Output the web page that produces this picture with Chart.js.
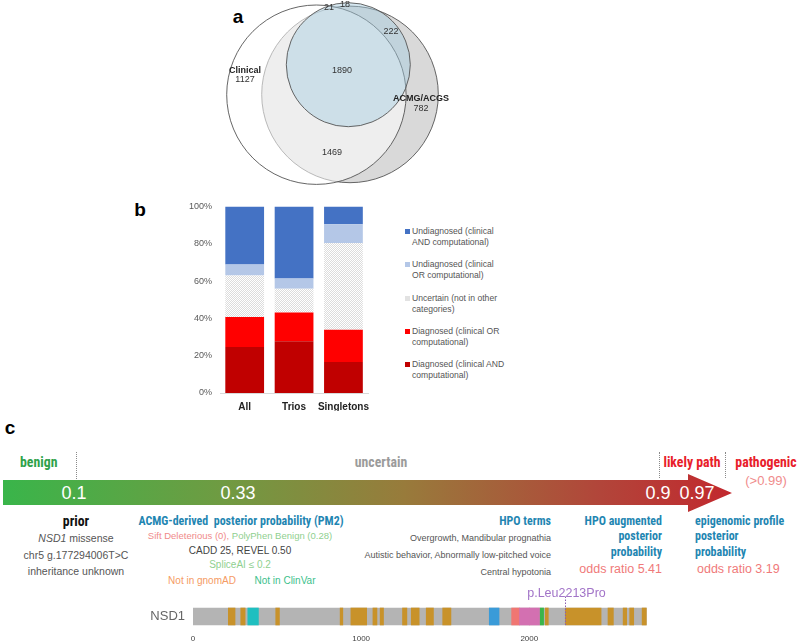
<!DOCTYPE html>
<html>
<head>
<meta charset="utf-8">
<script src="https://cdn.jsdelivr.net/npm/chart.js@4.4.1/dist/chart.umd.min.js"></script>
<style>
  body { margin: 0; background: #fff; }
  #page { position: relative; width: 800px; height: 644px; overflow: hidden; font-family: 'Liberation Sans', Arial, sans-serif; }
  canvas { position: absolute; }
  .lbl { position: absolute; white-space: nowrap; line-height: 1; }
  .cond { font-family: 'Liberation Sans Narrow', 'Arial Narrow', 'Roboto Condensed', sans-serif; font-weight: bold; }
  .letter { position: absolute; font-weight: bold; font-size: 19px; transform: translate(-50%, -50%); }
  .dots { position: absolute; width: 0; border-left: 1px dotted #8a8a8a; }
  #arrow {
    position: absolute; left: 3px; top: 474px; width: 729px; height: 38px;
    background: linear-gradient(to right, #39b54a 0%, #6f9b42 30%, #987b3b 55%, #b2453a 82%, #c2282e 100%);
    clip-path: polygon(0 6px, 685px 6px, 685px 0, 729px 19px, 685px 38px, 685px 31px, 0 31px);
  }
  #legend { position: absolute; left: 404px; top: 226px; font-size: 8.6px; color: #555; }
  #legend .item { position: absolute; left: 0; white-space: pre-line; line-height: 11px; padding-left: 8px; width: 140px; }
  #legend .sw { position: absolute; left: 1px; top: 3px; width: 5px; height: 5px; }
</style>
</head>
<body>
<div id="page">
  <div class="letter" style="left:238px;top:17px">a</div>
  <div class="letter" style="left:140px;top:210px">b</div>
  <div class="letter" style="left:10px;top:428px">c</div>

  <canvas id="venn" width="280" height="190" style="left:180px;top:0px"></canvas>
  <canvas id="bars" width="207" height="218" style="left:170px;top:193px"></canvas>
  <div id="legend"></div>

  <div id="arrow"></div>
  <div class="dots" style="left:76px;top:452px;height:27px"></div>
  <div class="dots" style="left:659px;top:452px;height:26px"></div>
  <div class="dots" style="left:725px;top:452px;height:26px"></div>
  <div id="texts"></div>

  <canvas id="protein" width="507" height="59" style="left:140px;top:585px"></canvas>
</div>

<script>
// ---- panel a: overlap counts ----
const vennSets = ['Clinical', 'ACMG/ACGS', 'Computational'];
const vennRegions = ['Clinical only', 'Clinical & ACMG', 'All three', 'ACMG & Computational', 'Clinical & Computational', 'Computational only', 'ACMG only'];
const vennCounts = [1127, 1469, 1890, 222, 21, 18, 782];

// ---- panel b: share of cases per group (%) ----
const barCategories = ['All', 'Trios', 'Singletons'];
const seriesNames = [
  'Diagnosed (clinical AND\ncomputational)',
  'Diagnosed (clinical OR\ncomputational)',
  'Uncertain (not in other\ncategories)',
  'Undiagnosed (clinical\nOR computational)',
  'Undiagnosed (clinical\nAND computational)'
];
const diagnosedAnd = [24.6, 27.7, 16.6];
const diagnosedOr = [16.1, 15.5, 17.3];
const uncertain = [22.3, 12.7, 46.5];
const undiagnosedOr = [5.9, 5.4, 10.0];
const undiagnosedAnd = [31.1, 38.7, 9.6];
const percentTicks = [0, 20, 40, 60, 80, 100];

// ---- panel c: NSD1 protein ----
const proteinName = ['NSD1'];
const proteinLength = 2696;
const proteinTicks = [0, 1000, 2000];
const domainStart = [210, 284, 326, 492, 875, 939, 1070, 1113, 1246, 1298, 1387, 1485, 1762, 1895, 1942, 2001, 2065, 2095, 2214, 2468, 2558, 2597, 2671];
const domainEnd   = [250, 310, 389, 514, 891, 1033, 1094, 1133, 1272, 1345, 1430, 1534, 1820, 1942, 2001, 2061, 2085, 2113, 2427, 2500, 2579, 2621, 2696];
const domainType  = ['region', 'region', 'PWWP1', 'region', 'region', 'region', 'region', 'region', 'region', 'region', 'region', 'region',
                     'PWWP2', 'AWS', 'SET', 'SET', 'postSET', 'region', 'region', 'region', 'region', 'region', 'region'];
const variantPos = 2213;
const variantName = 'p.Leu2213Pro';
const probabilityLabels = ['0.1', '0.33', '0.9', '0.97'];

// layout (not data)
const vennGeom = [
  { x: 136.4, y: 94.7, r: 89.7 },
  { x: 170, y: 94.4, r: 88.3 },
  { x: 168.3, y: 64.7, r: 62 }
];
const vennFills = ['rgba(255,255,255,0.55)', '#d9d9d9', 'rgba(165,205,224,0.45)'];
const vennCountPos = [[65, 80], [152, 153], [162, 71], [211, 32], [149, 8], [165, 5], [241, 109]];
const vennTitlePos = [[65, 71], [241, 99], null];

const domainColors = { region: '#c8922a', PWWP1: '#1fbfc0', PWWP2: '#3a9bd8', AWS: '#f07672', SET: '#d370b1', postSET: '#3bb54a' };

new Chart(document.getElementById('venn'), {
  type: 'bubble',
  data: {
    datasets: vennSets.map((name, i) => ({
      label: name,
      data: [{ x: vennGeom[i].x, y: vennGeom[i].y, r: vennGeom[i].r }],
      backgroundColor: vennFills[i],
      borderColor: '#555',
      borderWidth: 0.9,
      order: [2, 3, 1][i],
      clip: false
    }))
  },
  options: {
    responsive: false,
    animation: false,
    events: [],
    layout: { padding: 0, autoPadding: false },
    scales: {
      x: { type: 'linear', min: 0, max: 280, display: false },
      y: { type: 'linear', min: 0, max: 190, reverse: true, display: false }
    },
    plugins: { legend: { display: false }, tooltip: { enabled: false } }
  },
  plugins: [{
    id: 'vennText',
    afterDatasetsDraw(chart) {
      const { ctx, scales: { x, y } } = chart;
      ctx.save();
      ctx.textAlign = 'center';
      ctx.textBaseline = 'middle';
      ctx.fillStyle = '#222';
      ctx.font = 'bold 9px "Liberation Sans", Arial, sans-serif';
      vennSets.forEach((s, i) => {
        const p = vennTitlePos[i];
        if (p) ctx.fillText(s, x.getPixelForValue(p[0]), y.getPixelForValue(p[1]));
      });
      ctx.font = '9px "Liberation Sans", Arial, sans-serif';
      ctx.fillStyle = '#333';
      vennCounts.forEach((c, i) => {
        const p = vennCountPos[i];
        ctx.fillText(String(c), x.getPixelForValue(p[0]), y.getPixelForValue(p[1]));
      });
      ctx.restore();
    }
  }]
});

// hatched fill for the uncertain band
function makePattern() {
  const c = document.createElement('canvas');
  c.width = 4; c.height = 4;
  const g = c.getContext('2d');
  g.fillStyle = '#fff';
  g.fillRect(0, 0, 4, 4);
  g.fillStyle = '#dcdcdc';
  for (let i = 0; i < 4; i++) for (let j = 0; j < 4; j++) if ((i + j) % 2 === 0) g.fillRect(i, j, 1, 1);
  return g.createPattern(c, 'repeat');
}
const hatch = makePattern();
const seriesColors = ['#c00000', '#ff0000', hatch, '#b4c7e7', '#4472c4'];
const seriesData = [diagnosedAnd, diagnosedOr, uncertain, undiagnosedOr, undiagnosedAnd];

new Chart(document.getElementById('bars'), {
  type: 'bar',
  data: {
    labels: barCategories,
    datasets: seriesNames.map((n, i) => ({
      label: n,
      data: seriesData[i],
      backgroundColor: seriesColors[i],
      borderWidth: 0,
      categoryPercentage: 1,
      barPercentage: 0.785
    }))
  },
  options: {
    responsive: false,
    animation: false,
    events: [],
    layout: { padding: { top: 7, right: 0, left: 0, bottom: 0 } },
    scales: {
      x: {
        stacked: true,
        grid: { display: false, drawTicks: false },
        border: { display: true, color: '#d9d9d9' },
        ticks: {
          color: '#222', padding: 8, maxRotation: 0, minRotation: 0, autoSkip: false,
          font: { family: "'Liberation Sans Narrow', 'Arial Narrow', sans-serif", weight: 'bold', size: 10 }
        },
        afterFit(s) { s.height = 18; }
      },
      y: {
        stacked: true,
        min: 0, max: 100,
        grid: { display: false, drawTicks: false },
        border: { display: false },
        afterBuildTicks(s) { s.ticks = percentTicks.map(v => ({ value: v })); },
        ticks: { color: '#595959', padding: 8, font: { family: "'Liberation Sans', Arial, sans-serif", size: 9 }, callback: v => v + '%' },
        afterFit(s) { s.width = 50; }
      }
    },
    plugins: { legend: { display: false }, tooltip: { enabled: false } }
  }
});

// legend for panel b (top item = top of the stack)
const legend = document.getElementById('legend');
const legendSwatch = ['#c00000', '#ff0000', '#e2e2e2', '#b4c7e7', '#4472c4'];
seriesNames.slice().reverse().forEach((n, k) => {
  const i = seriesNames.length - 1 - k;
  const d = document.createElement('div');
  d.className = 'item';
  d.style.top = (k * 33.3) + 'px';
  d.innerHTML = '<span class="sw" style="background:' + legendSwatch[i] + '"></span>';
  d.appendChild(document.createTextNode(n));
  legend.appendChild(d);
});

// panel c texts
const blue = '#1f86b2';
const textSpecs = [
  { h: 'benign', x: 20, y: 462, a: 'l', c: '#2fa24a', s: 15, cond: 1 },
  { h: 'uncertain', x: 381, y: 462, a: 'c', c: '#9b9b9b', s: 15, cond: 1 },
  { h: 'likely path', x: 692, y: 462, a: 'c', c: '#e8202a', s: 15, cond: 1 },
  { h: 'pathogenic', x: 766, y: 462, a: 'c', c: '#e8202a', s: 15, cond: 1 },
  { h: '(&gt;0.99)', x: 766, y: 480, a: 'c', c: '#f08c8c', s: 13 },
  { h: probabilityLabels[0], x: 74, y: 493, a: 'c', c: '#fff', s: 18 },
  { h: probabilityLabels[1], x: 238, y: 493, a: 'c', c: '#fff', s: 18 },
  { h: probabilityLabels[2], x: 658, y: 493, a: 'c', c: '#fff', s: 18 },
  { h: probabilityLabels[3], x: 697, y: 493, a: 'c', c: '#fff', s: 18 },
  { h: 'prior', x: 76, y: 521, a: 'c', c: '#111', s: 15, cond: 1 },
  { h: '<i>NSD1</i> missense', x: 76, y: 538, a: 'c', c: '#555', s: 10.5 },
  { h: 'chr5 g.177294006T&gt;C', x: 76, y: 555, a: 'c', c: '#555', s: 10.5 },
  { h: 'inheritance unknown', x: 76, y: 571, a: 'c', c: '#555', s: 10.5 },
  { h: 'ACMG-derived&nbsp; posterior probability (PM2)', x: 241, y: 520, a: 'c', c: blue, s: 13, cond: 1 },
  { h: '<span style="color:#f08a8a">Sift Deleterious (0),</span> <span style="color:#8fd08f">PolyPhen Benign (0.28)</span>', x: 240, y: 536, a: 'c', c: '#555', s: 9.5 },
  { h: 'CADD 25, REVEL 0.50', x: 240, y: 551, a: 'c', c: '#444', s: 10 },
  { h: 'SpliceAI ≤ 0.2', x: 240, y: 565, a: 'c', c: '#8fd08f', s: 10 },
  { h: 'Not in gnomAD', x: 202, y: 581, a: 'c', c: '#f59b64', s: 10 },
  { h: 'Not in ClinVar', x: 285, y: 581, a: 'c', c: '#3cbf8c', s: 10 },
  { h: 'HPO terms', x: 551, y: 520, a: 'r', c: blue, s: 13, cond: 1 },
  { h: 'Overgrowth, Mandibular prognathia', x: 551, y: 538, a: 'r', c: '#555', s: 9 },
  { h: 'Autistic behavior, Abnormally low-pitched voice', x: 551, y: 555, a: 'r', c: '#555', s: 9 },
  { h: 'Central hypotonia', x: 551, y: 572, a: 'r', c: '#555', s: 9 },
  { h: 'HPO augmented', x: 662, y: 520, a: 'r', c: blue, s: 13, cond: 1 },
  { h: 'posterior', x: 662, y: 535, a: 'r', c: blue, s: 13, cond: 1 },
  { h: 'probability', x: 662, y: 550.5, a: 'r', c: blue, s: 13, cond: 1 },
  { h: 'odds ratio 5.41', x: 662, y: 569, a: 'r', c: '#f07a7a', s: 12.5 },
  { h: 'epigenomic profile', x: 695, y: 520, a: 'l', c: blue, s: 13, cond: 1 },
  { h: 'posterior', x: 695, y: 535, a: 'l', c: blue, s: 13, cond: 1 },
  { h: 'probability', x: 695, y: 550.5, a: 'l', c: blue, s: 13, cond: 1 },
  { h: 'odds ratio 3.19', x: 697, y: 569, a: 'l', c: '#f07a7a', s: 12.5 }
];
const texts = document.getElementById('texts');
const shift = { l: '0', c: '-50%', r: '-100%' };
textSpecs.forEach(t => {
  const d = document.createElement('div');
  d.className = 'lbl' + (t.cond ? ' cond' : '');
  d.style.left = t.x + 'px';
  d.style.top = t.y + 'px';
  d.style.color = t.c;
  d.style.fontSize = t.s + 'px';
  d.style.transformOrigin = { l: 'left center', c: 'center center', r: 'right center' }[t.a];
  d.style.transform = 'translate(' + shift[t.a] + ',-50%)' + (t.cond ? ' scaleX(0.92)' : '');
  d.innerHTML = t.h;
  texts.appendChild(d);
});

new Chart(document.getElementById('protein'), {
  type: 'bar',
  data: {
    labels: proteinName,
    datasets: [
      {
        label: 'domains',
        data: domainStart.map((s, i) => ({ x: [s, domainEnd[i]], y: proteinName[0] })),
        backgroundColor: domainType.map(t => domainColors[t]),
        borderWidth: 0,
        barThickness: 17,
        grouped: false,
        order: 1
      },
      {
        label: 'protein',
        data: [{ x: [0, proteinLength], y: proteinName[0] }],
        backgroundColor: '#b4b4b4',
        borderWidth: 0,
        barThickness: 17,
        grouped: false,
        order: 2
      }
    ]
  },
  options: {
    indexAxis: 'y',
    responsive: false,
    animation: false,
    events: [],
    layout: { padding: { top: 20, right: 0, left: 0, bottom: 0 } },
    scales: {
      x: {
        type: 'linear', min: 0, max: 2700,
        grid: { display: false, drawTicks: false },
        border: { display: false },
        afterBuildTicks(s) { s.ticks = proteinTicks.map(v => ({ value: v })); },
        ticks: { color: '#444', padding: 6, font: { family: "'Liberation Sans', Arial, sans-serif", size: 8 }, callback: v => String(v) },
        afterFit(s) { s.height = 16; }
      },
      y: {
        grid: { display: false, drawTicks: false },
        border: { display: false },
        ticks: { color: '#666', padding: 8, font: { family: "'Liberation Sans', Arial, sans-serif", size: 13 } },
        afterFit(s) { s.width = 53; }
      }
    },
    plugins: { legend: { display: false }, tooltip: { enabled: false } }
  },
  plugins: [{
    id: 'variant',
    afterDatasetsDraw(chart) {
      const { ctx, scales: { x, y } } = chart;
      const px = Math.round(x.getPixelForValue(variantPos)) + 0.5;
      const cy = y.getPixelForValue(0);
      ctx.save();
      ctx.strokeStyle = '#8a5db0';
      ctx.lineWidth = 1;
      ctx.setLineDash([1.5, 1.5]);
      ctx.beginPath();
      ctx.moveTo(px, cy - 20);
      ctx.lineTo(px, cy + 8.5);
      ctx.stroke();
      ctx.fillStyle = '#a274c8';
      ctx.font = '12.5px "Liberation Sans", Arial, sans-serif';
      ctx.textAlign = 'center';
      ctx.textBaseline = 'middle';
      ctx.fillText(variantName, px + 1, cy - 23);
      ctx.restore();
    }
  }]
});
</script>
</body>
</html>
